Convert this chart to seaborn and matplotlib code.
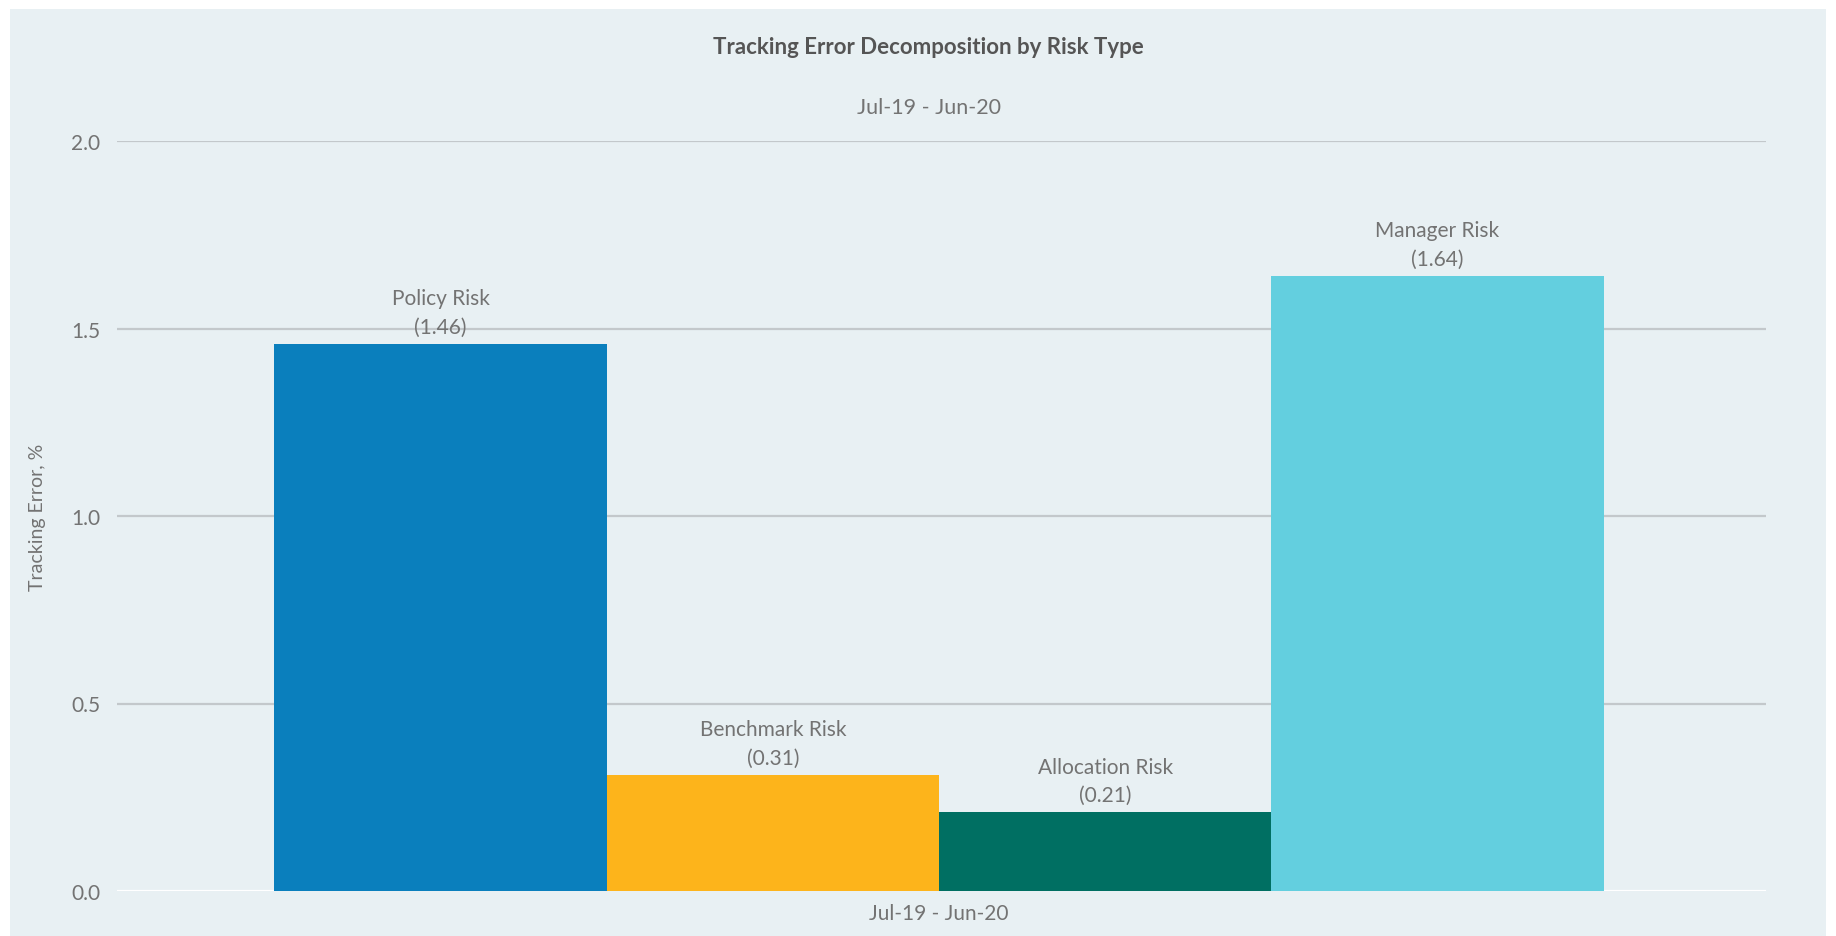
import matplotlib
matplotlib.use("Agg")
import matplotlib.pyplot as plt
import seaborn as sns
import pandas as pd
from matplotlib.patches import Rectangle

# ---- data ----
period = ["Jul-19 - Jun-20"]
risk_types = ["Policy Risk", "Benchmark Risk", "Allocation Risk", "Manager Risk"]
tracking_error = [1.46, 0.31, 0.21, 1.64]
colors = ["#0A7FBD", "#FDB41B", "#006F62", "#63CFDF"]
y_ticks = [0.0, 0.5, 1.0, 1.5, 2.0]

df = pd.DataFrame({
    "period": period * len(risk_types),
    "risk": risk_types,
    "te": tracking_error,
})

sns.set_theme(style="white")
plt.rcParams["font.family"] = ["Lato", "DejaVu Sans"]

panel_bg = "#E8F0F3"
text_grey = "#737373"

fig = plt.figure(figsize=(18.36, 9.37), dpi=100, facecolor="white")
fig.patches.append(Rectangle((10 / 1836, 0.0), (1826 - 10) / 1836, (937 - 10) / 937,
                             transform=fig.transFigure, facecolor=panel_bg,
                             edgecolor="none", zorder=-10))

ax = fig.add_axes([117 / 1836, 45 / 937, (1766 - 117) / 1836, (892 - 142) / 937])
ax.set_facecolor(panel_bg)
ax.patch.set_alpha(0)

sns.barplot(data=df, x="period", y="te", hue="risk", hue_order=risk_types,
            palette=colors, width=0.806, saturation=1, ax=ax, legend=False,
            edgecolor="none", linewidth=0, zorder=3)
ax.set_xlim(-0.4985, 0.5015)

ax.set_ylim(0, 2.0)
ax.set_yticks(y_ticks)
ax.set_yticklabels([f"{v:.1f}" for v in y_ticks])
for v in y_ticks:
    ax.axhline(v, color="white" if v == 0 else "#C3C8CB", lw=1.6, zorder=1)

for s in ax.spines.values():
    s.set_visible(False)
ax.tick_params(axis="both", length=0, colors=text_grey, labelsize=15)
ax.tick_params(axis="y", pad=12)
ax.tick_params(axis="x", pad=9)
ax.set_xlabel("")
ax.set_ylabel("Tracking Error, %", color=text_grey, fontsize=14, labelpad=18)

# bar labels
for cont, name in zip(ax.containers, risk_types):
    for bar in cont:
        h = bar.get_height()
        ax.annotate(f"{name}\n({h:.2f})",
                    xy=(bar.get_x() + bar.get_width() / 2, h),
                    xytext=(0, 5), textcoords="offset points",
                    ha="center", va="bottom", fontsize=15,
                    color=text_grey, linespacing=1.55, zorder=4)

fig.text(928 / 1836, 1 - 47 / 937, "Tracking Error Decomposition by Risk Type",
         ha="center", va="center", fontsize=16, fontweight="bold", color="#555555")
fig.text(929 / 1836, 1 - 108 / 937, period[0],
         ha="center", va="center", fontsize=15.5, color=text_grey)

fig.savefig("out.png", dpi=100, facecolor="white")
